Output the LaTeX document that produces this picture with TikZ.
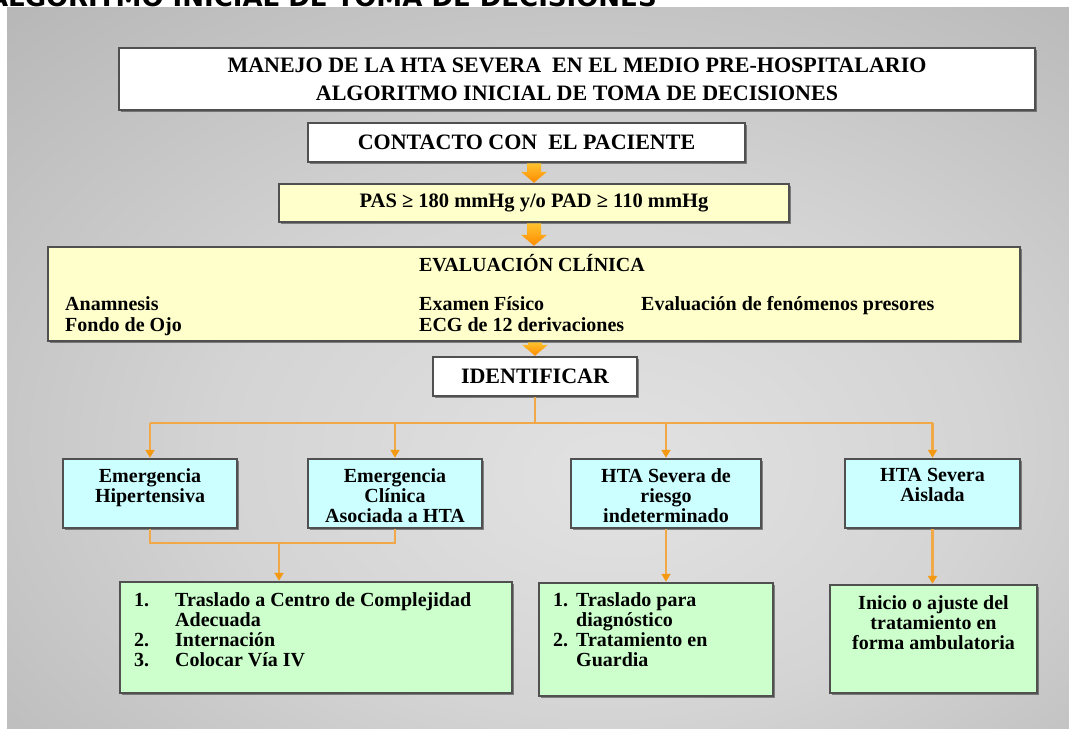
\documentclass[tikz,border=0pt]{standalone}
\usepackage{fontspec}
\setmainfont{Liberation Serif}
\setsansfont{DejaVu Sans}
\usetikzlibrary{arrows.meta,calc,shadows}

\definecolor{panelA}{HTML}{E2E2E2}
\definecolor{panelB}{HTML}{D4D4D4}
\definecolor{panelC}{HTML}{B9B9B9}
\definecolor{panelD}{HTML}{A4A4A4}
\definecolor{panelE}{HTML}{8E8E8E}
\definecolor{edge}{HTML}{505050}
\definecolor{paleyellow}{HTML}{FFFFCC}
\definecolor{palecyan}{HTML}{CCFFFF}
\definecolor{palegreen}{HTML}{CCFFCC}
\definecolor{linkorange}{HTML}{F0A848}
\definecolor{headorange}{HTML}{F39A12}
\definecolor{arrowtop}{HTML}{FFC22E}
\definecolor{arrowbot}{HTML}{FF8C00}

% soft grey backdrop, lighter towards the middle
\pgfdeclareradialshading{panelshade}{\pgfpoint{4bp}{-8bp}}{%
  color(0bp)=(panelA); color(18bp)=(panelB); color(38bp)=(panelC);
  color(52bp)=(panelD); color(75bp)=(panelE)}

% broad orange block arrow from #1 (top) down to the tip #2
\newcommand\fatarrow[2]{%
  \shade[top color=arrowtop, bottom color=arrowbot]
    ($(#1)+(-7,0)$) -- ($(#1)+(7,0)$) -- ($(#2)+(7,-11)$) -- ($(#2)+(13,-11)$)
    -- (#2) -- ($(#2)+(-13,-11)$) -- ($(#2)+(-7,-11)$) -- cycle;}

\begin{document}
\begin{tikzpicture}[x=1pt,y=-1pt,
  box/.style={draw=edge, line width=2.5pt, inner sep=0pt,
    drop shadow={shadow xshift=1.6pt, shadow yshift=-1.6pt, fill=black!85}},
  txt/.style={font=\fontsize{20}{20}\selectfont\bfseries, inner sep=0pt},
  bigtxt/.style={font=\fontsize{22}{28}\selectfont\bfseries},
  listtxt/.style={font=\fontsize{20}{19.5}\selectfont\bfseries, inner sep=0pt, anchor=north west},
  link/.style={draw=linkorange, line width=2.5pt},
  tip/.style={-{Triangle[length=8pt,width=9pt,color=headorange]}}]

\useasboundingbox (0,0) rectangle (1069,731);
\clip (0,0) rectangle (1069,731);
\fill[white] (0,0) rectangle (1069,731);

% page heading above the panel
\node[anchor=base east, inner sep=0pt, font=\fontsize{26}{26}\selectfont\sffamily\bfseries]
  (heading) at (657,6) {ALGORITMO INICIAL DE TOMA DE DECISIONES};

\shade[shading=panelshade] (7,7) rectangle (1069,728);

% header and first steps
\node[box, fill=white, bigtxt, align=center, minimum width=916pt, minimum height=62pt]
  (titlebox) at (577,79)
  {MANEJO DE LA HTA SEVERA\ \ EN EL MEDIO PRE-HOSPITALARIO\\ALGORITMO INICIAL DE TOMA DE DECISIONES};
\node[box, fill=white, bigtxt, minimum width=437pt, minimum height=39pt]
  (contact) at (526.5,142.5) {CONTACTO CON\ \ EL PACIENTE};
\node[box, fill=paleyellow, font=\fontsize{20.5}{20}\selectfont\bfseries,
  minimum width=510pt, minimum height=38pt]
  (pas) at (534,203) {PAS ≥ 180 mmHg y/o PAD ≥ 110 mmHg};

% clinical evaluation
\node[box, fill=paleyellow, minimum width=972pt, minimum height=94pt] (eval) at (534,294) {};
\node[txt, anchor=base] (evaltitle) at (532,271.5) {EVALUACIÓN CLÍNICA};
\node[txt, anchor=base west] (anam) at (65,310.5) {Anamnesis};
\node[txt, anchor=base west] (fondo) at (65,331.5) {Fondo de Ojo};
\node[txt, anchor=base west] (examen) at (419,310.5) {Examen Físico};
\node[txt, anchor=base west] (ecg) at (419,331.5) {ECG de 12 derivaciones};
\node[txt, anchor=base west] (presores) at (641,310.5) {Evaluación de fenómenos presores};

\node[box, fill=white, bigtxt, minimum width=204pt, minimum height=39pt]
  (ident) at (535,376.5) {IDENTIFICAR};

% categories
\node[box, fill=palecyan, minimum width=174pt, minimum height=69pt] (b1) at (150,493.5) {};
\node[box, fill=palecyan, minimum width=174pt, minimum height=69pt] (b2) at (395,493.5) {};
\node[box, fill=palecyan, minimum width=190pt, minimum height=69pt] (b3) at (666,493.5) {};
\node[box, fill=palecyan, minimum width=175pt, minimum height=69pt] (b4) at (932.5,493.5) {};
\node[txt, anchor=north, align=center] (t1) at (150,468) {Emergencia\\Hipertensiva};
\node[txt, anchor=north, align=center] (t2) at (395,468) {Emergencia\\Clínica\\Asociada a HTA};
\node[txt, anchor=north, align=center] (t3) at (666,468) {HTA Severa de\\riesgo\\indeterminado};
\node[txt, anchor=north, align=center] (t4) at (932.5,468) {HTA Severa\\Aislada};

% actions
\node[box, fill=palegreen, minimum width=392pt, minimum height=111pt] (b5) at (316,637.5) {};
\node[box, fill=palegreen, minimum width=234pt, minimum height=113pt] (b6) at (656,639.5) {};
\node[box, fill=palegreen, minimum width=207pt, minimum height=108pt] (b7) at (933.5,639) {};
\node[listtxt] (t5) at (134,592.8) {%
  \begin{tabular}{@{}p{41pt}@{}l@{}}
  1.&Traslado a Centro de Complejidad\\
    &Adecuada\\
  2.&Internación\\
  3.&Colocar Vía IV
  \end{tabular}};
\node[listtxt] (t6) at (553,592.8) {%
  \begin{tabular}{@{}p{23pt}@{}l@{}}
  1.&Traslado para\\
    &diagnóstico\\
  2.&Tratamiento en\\
    &Guardia
  \end{tabular}};
\node[txt, anchor=north, align=center] (t7) at (933.5,595)
  {Inicio o ajuste del\\tratamiento en\\forma ambulatoria};

% block arrows down the main column
\coordinate (a1) at (contact.south -| pas.north);
\coordinate (a2) at (pas.south |- eval.north);
\coordinate (a3) at (eval.south -| ident.north);
\fatarrow{a1}{pas.north}
\fatarrow{pas.south}{a2}
\fatarrow{a3}{ident.north}

% branching connectors
\coordinate (hub) at (535,423);
\draw[link] (ident.south) -- (hub);
\draw[link] (b1.north |- hub) -- (b4.north |- hub);
\draw[link,tip] (b1.north |- hub) -- (b1.north);
\draw[link,tip] (b2.north |- hub) -- (b2.north);
\draw[link,tip] (b3.north |- hub) -- (b3.north);
\draw[link,tip] (b4.north |- hub) -- (b4.north);

\coordinate (merge) at (279,543);
\draw[link] (b1.south) |- (merge) -| (b2.south);
\draw[link,tip] (merge) -- (merge |- b5.north);
\draw[link,tip] (b3.south) -- (b3.south |- b6.north);
\draw[link,tip] (b4.south) -- (b4.south |- b7.north);
\end{tikzpicture}
\end{document}
